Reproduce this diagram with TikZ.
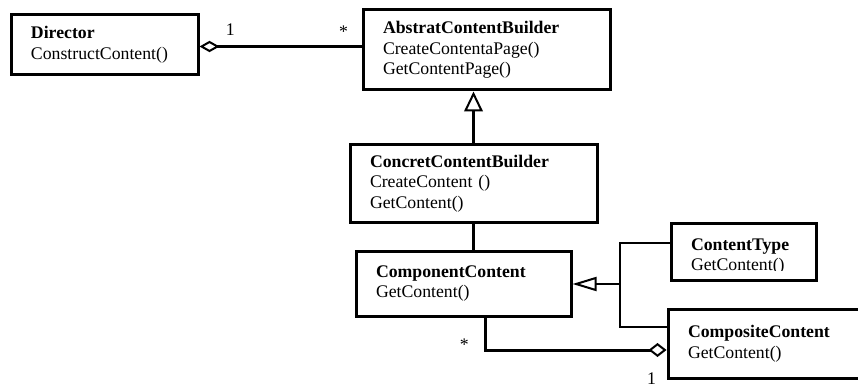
\documentclass[tikz,border=0pt]{standalone}
\usepackage{fontspec}
\setmainfont{Liberation Serif}
\usetikzlibrary{arrows.meta}
\tikzset{
	%Define style for class boxes
	klasse/.style={
		rectangle,
		draw=black, line width=2.25pt,
		inner xsep=15pt, inner ysep=4pt,
		align=left,
		font=\fontsize{13.3}{15.5}\selectfont},
	% multiplicities
	mult/.style={inner sep=0pt, font=\fontsize{13.3}{15.5}\selectfont},
	% plain association
	assoc/.style={line width=2.25pt},
	% aggregation, diamond at the start of the path
	agg/.style={
		assoc,
		{Diamond[open, length=15pt, width=8.5pt, line width=1.5pt]}-},
	% generalisation
	arv/.style={line width=1.6pt},
	arvpil/.style={
		arv,
		-{Triangle[open, length=15pt, width=14pt, line width=1.5pt]}}
}

\begin{document}
\begin{tikzpicture}[x=0.75pt, y=-0.75pt]
	\useasboundingbox (0,0) rectangle (858,385);

	\node[klasse, text width=110.25pt, minimum height=45pt] (director) at (104.5,44.5)
		{\textbf{Director}\\ConstructContent()};
	\node[klasse, text width=155.25pt, minimum height=60pt] (abstrat) at (486.5,50)
		{\textbf{AbstratContentBuilder}\\CreateContentaPage()\\GetContentPage()};
	\node[klasse, text width=155.25pt, minimum height=57.75pt] (concret) at (473.5,183.5)
		{\textbf{ConcretContentBuilder}\\CreateContent ()\\GetContent()};
	\node[klasse, text width=131.25pt, minimum height=48.75pt] (component) at (463.5,283.5)
		{\textbf{ComponentContent}\\GetContent()};
	\node[klasse, text width=136.5pt, minimum height=51.75pt] (composite) at (779,343.5)
		{\textbf{CompositeContent}\\GetContent()};

	% second line of this box is cut off in the original
	\node[klasse, minimum width=108.75pt, minimum height=42.75pt] (ctype) at (743.5,251.5) {};
	\begin{scope}
		\clip (ctype.north west) rectangle ([yshift=8.6pt]ctype.south east);
		\node[klasse, draw=none, text width=78.75pt, yshift=-3.75pt] (ctype-text) at (ctype)
			{\textbf{ContentType}\\GetContent()};
	\end{scope}

	\coordinate (fork) at (620,284);

	\draw[agg] ([yshift=-1.5pt]director.east) -- ([yshift=-1.5pt]director.east -| abstrat.west)
		node[mult, pos=0.19, anchor=base, yshift=8.25pt] {1}
		node[mult, pos=0.89, anchor=base, yshift=6.75pt] {*};
	\draw[arvpil] (concret.north) -- (concret.north |- abstrat.south);
	\draw[assoc] (concret.south) -- (concret.south |- component.north);

	\draw[arv] ([yshift=6.375pt]ctype.west) -| (fork) |- ([yshift=12.375pt]composite.west);
	\draw[arvpil, line width=2pt, -{Triangle[open, length=18pt, width=10.5pt, line width=1.5pt]}]
		(fork) -- (fork -| component.east);

	\draw[agg, {Diamond[open, length=13.5pt, width=10.5pt, line width=1.5pt]}-]
		([yshift=-4.875pt]composite.west) -| ([xshift=16.125pt]component.south)
		node[mult, pos=0, anchor=base, xshift=-11.25pt, yshift=-25.5pt] {1}
		node[mult, pos=0.5, anchor=base east, xshift=-11pt] {*};
\end{tikzpicture}
\end{document}
